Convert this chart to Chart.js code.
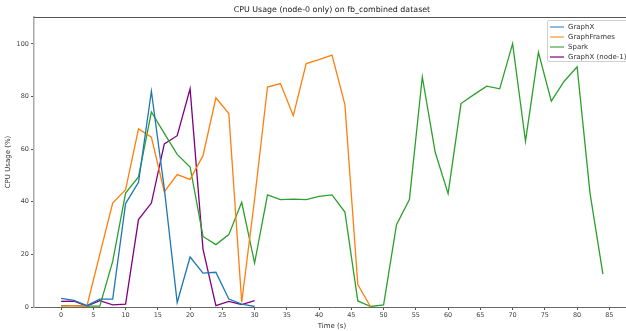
<!DOCTYPE html>
<html>
<head>
<meta charset="utf-8">
<script src="https://cdn.jsdelivr.net/npm/chart.js@4"></script>
<style>
    body { margin: 0; background: #fff; }
    #wrap { position: relative; width: 626px; height: 331px; overflow: hidden; font-family: "DejaVu Sans", sans-serif; }
    #box { position: absolute; left: 0; top: 0; width: 630px; height: 331px; }
    #title { position: absolute; left: 34px; width: 596px; top: 5px; text-align: center; font-size: 7.9px; color: #222; white-space: nowrap; }
    #legend { position: absolute; left: 547px; top: 20px; width: 90px; height: 40px; border: 1px solid #d0d0d0; border-radius: 2px; background: rgba(255,255,255,0.85); }
    .row { position: absolute; left: 0; height: 10px; font-size: 7px; color: #333; white-space: nowrap; }
    .row i { position: absolute; left: 2px; top: 4px; width: 14px; height: 1.6px; }
    .row span { position: absolute; left: 20px; top: 0px; line-height: 10px; }
</style>
</head>
<body>
<div id="wrap">
    <div id="box"><canvas id="cpuChart"></canvas></div>
    <div id="title">CPU Usage (node-0 only) on fb_combined dataset</div>
    <div id="legend"></div>
</div>
<script>
// ==================== DATA ====================
const seriesNames = ['GraphX', 'GraphFrames', 'Spark', 'GraphX (node-1)'];
const seriesColors = ['#1f77b4', '#ff7f0e', '#2ca02c', '#800080'];
const legendColors = ['#8fbbdc', '#ffbe86', '#8fcb8f', '#b266b2'];

const graphxTime = [0, 2, 4, 6, 8, 10, 12, 14, 16, 18, 20, 22, 24, 26, 28, 30];
const graphxCpu = [3.3, 2.5, 0.5, 3, 3, 39.3, 47.4, 82, 45, 1.7, 19, 12.9, 13.2, 3, 1.1, 0.2];

const framesTime = [0, 2, 4, 6, 8, 10, 12, 14, 16, 18, 20, 22, 24, 26, 28, 30, 32, 34, 36, 38, 40, 42, 44, 46, 48];
const framesCpu = [0.3, 0.5, 0.3, 20, 39.5, 44.6, 67.7, 64.5, 43.8, 50.3, 48.5, 57.5, 79.5, 73.5, 1.8, 41, 83.6, 84.9, 72.7, 92.5, 94, 95.7, 76.9, 8.5, 0];

const sparkTime = [0, 2, 4, 6, 8, 10, 12, 14, 16, 18, 20, 22, 24, 26, 28, 30, 32, 34, 36, 38, 40, 42,
    44, 46, 48, 50, 52, 54, 56, 58, 60, 62, 64, 66, 68, 70, 72, 74, 76, 78, 80, 82, 84];
const sparkCpu = [0.5, 0.5, 0.3, 0.3, 17.3, 43.3, 49.4, 74.1, 66, 58, 53.2, 26.8, 23.7, 27.5, 39.8, 16.7, 42.6, 40.8, 41, 40.8, 42, 42.6,
    36.1, 2.3, 0.2, 0.8, 31.3, 40.8, 87.4, 58.8, 43.1, 77.3, 80.7, 83.9, 82.9, 100.1, 63, 96.8, 78.2, 85.8, 91.3, 43.3, 12.5];

const node1Time = [0, 2, 4, 6, 8, 10, 12, 14, 16, 18, 20, 22, 24, 26, 28, 30];
const node1Cpu = [2.1, 2.2, 0.4, 2.4, 0.8, 1.1, 33.2, 39.5, 62, 65.1, 82.9, 22, 0.5, 2.1, 0.9, 2.4];

const xTicks = [0, 5, 10, 15, 20, 25, 30, 35, 40, 45, 50, 55, 60, 65, 70, 75, 80, 85];
const yTicks = [0, 20, 40, 60, 80, 100];

// ==================== CHART ====================
const allTimes = [graphxTime, framesTime, sparkTime, node1Time];
const allCpu = [graphxCpu, framesCpu, sparkCpu, node1Cpu];

const datasets = seriesNames.map((name, i) => ({
    label: name,
    data: allTimes[i].map((t, j) => ({ x: t, y: allCpu[i][j] })),
    borderColor: seriesColors[i],
    backgroundColor: seriesColors[i],
    borderWidth: 1.3,
    pointRadius: 0,
    tension: 0,
    fill: false,
}));

// top spine, like matplotlib's box
const frameLines = {
    id: 'frameLines',
    afterDraw(chart) {
        const { ctx, chartArea } = chart;
        ctx.save();
        ctx.strokeStyle = '#555';
        ctx.lineWidth = 1;
        ctx.beginPath();
        ctx.moveTo(chartArea.left, chartArea.top + 0.5);
        ctx.lineTo(chartArea.right, chartArea.top + 0.5);
        ctx.stroke();
        ctx.restore();
    }
};

const tickFont = { family: 'DejaVu Sans', size: 6.5 };

new Chart(document.getElementById('cpuChart'), {
    type: 'line',
    data: { datasets },
    plugins: [frameLines],
    options: {
        responsive: true,
        maintainAspectRatio: false,
        animation: false,
        layout: { padding: { top: 17, right: 0, bottom: 0, left: 0 } },
        plugins: {
            legend: { display: false },
            tooltip: { enabled: false },
            title: { display: false }
        },
        scales: {
            x: {
                type: 'linear',
                min: -4.2,
                max: 88.2,
                afterFit: s => { s.height = 24; },
                afterBuildTicks: s => { s.ticks = xTicks.map(v => ({ value: v })); },
                grid: { display: true, drawOnChartArea: false, drawTicks: true, tickLength: 3, tickColor: '#555' },
                border: { display: true, color: '#666', width: 1 },
                ticks: { font: tickFont, color: '#444', padding: 1, maxRotation: 0, includeBounds: false },
                title: { display: true, text: 'Time (s)', font: { family: 'DejaVu Sans', size: 7 }, color: '#333', padding: { top: 0, bottom: 1 } }
            },
            y: {
                min: 0,
                max: 110.2,
                afterFit: s => { s.width = 34; },
                afterBuildTicks: s => { s.ticks = yTicks.map(v => ({ value: v })); },
                grid: { display: true, drawOnChartArea: false, drawTicks: true, tickLength: 3, tickColor: '#555' },
                border: { display: true, color: '#aaa', width: 1.5 },
                ticks: { font: tickFont, color: '#444', padding: 2, includeBounds: false },
                title: { display: true, text: 'CPU Usage (%)', font: { family: 'DejaVu Sans', size: 7 }, color: '#333', padding: { top: 4, bottom: 0 } }
            }
        }
    }
});

// ==================== LEGEND ====================
document.getElementById('legend').innerHTML = seriesNames.map((name, i) => `
    <div class="row" style="top:${1 + i * 10}px;">
        <i style="background:${legendColors[i]};"></i><span>${name}</span>
    </div>
`).join('');
</script>
</body>
</html>
